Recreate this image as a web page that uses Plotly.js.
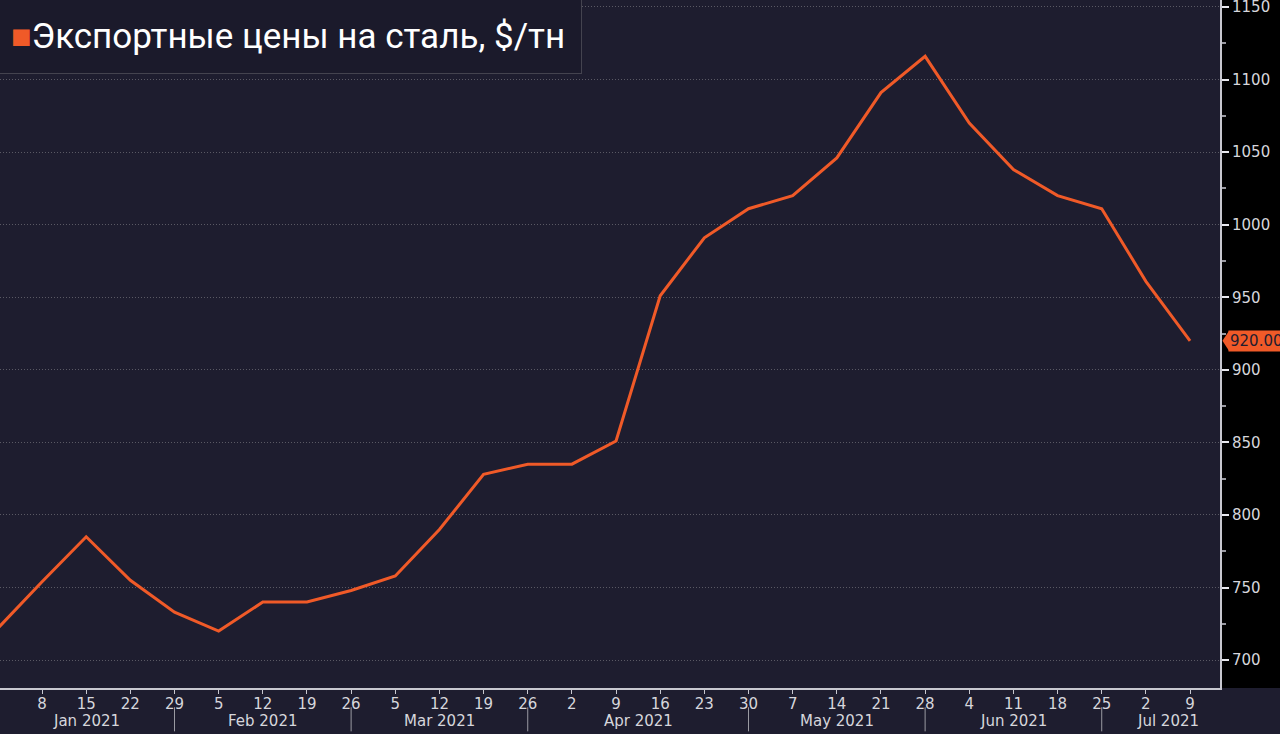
<!DOCTYPE html>
<html>
<head>
<meta charset="utf-8">
<script src="https://cdn.plot.ly/plotly-3.0.1.min.js"></script>
<style>html,body{margin:0;padding:0;background:#1e1d2f;}#chart{width:1280px;height:734px;}</style>
</head>
<body>
<div id="chart"></div>
<script>
// ---- data ----
const dates = ['2021-01-01','2021-01-08','2021-01-15','2021-01-22','2021-01-29',
  '2021-02-05','2021-02-12','2021-02-19','2021-02-26',
  '2021-03-05','2021-03-12','2021-03-19','2021-03-26',
  '2021-04-02','2021-04-09','2021-04-16','2021-04-23','2021-04-30',
  '2021-05-07','2021-05-14','2021-05-21','2021-05-28',
  '2021-06-04','2021-06-11','2021-06-18','2021-06-25',
  '2021-07-02','2021-07-09'];
const prices = [722,754,785,755,733,
  720,740,740,748,
  758,790,828,835,
  835,851,951,991,1011,
  1020,1046,1091,1116,
  1070,1038,1020,1011,
  961,920];
const seriesName = 'Экспортные цены на сталь, $/тн';
const tickDates = dates.slice(1);
const tickLabels = tickDates.map(d => String(parseInt(d.slice(8,10),10)));
const monthNames = ['Jan 2021','Feb 2021','Mar 2021','Apr 2021','May 2021','Jun 2021','Jul 2021'];
const monthLabelDates = ['2021-01-15','2021-02-12','2021-03-12','2021-04-12 12:00','2021-05-14','2021-06-11','2021-07-05 12:00'];
const monthSeparators = ['2021-01-29','2021-02-26','2021-03-26','2021-04-30','2021-05-28','2021-06-25'];
const yTicks = [700,750,800,850,900,950,1000,1050,1100,1150];

const orange = '#f05a28';
const bg = '#1e1d2f';
const lastVal = prices[prices.length-1];
const labelFont = {family: 'DejaVu Sans', size: 15, color: '#d6d6dc'};

const trace = {
  x: dates, y: prices, type: 'scatter', mode: 'lines',
  line: {color: orange, width: 3}, name: seriesName, showlegend: false,
  hoverinfo: 'x+y'
};

const annotations = monthNames.map((m,i) => ({
  x: monthLabelDates[i], y: 0, xref: 'x', yref: 'paper', yanchor: 'top', yshift: -22,
  text: m, showarrow: false, font: labelFont
}));
annotations.push({
  x: 0, y: 1, xref: 'paper', yref: 'paper', xanchor: 'left', yanchor: 'top', xshift: -6, yshift: 1,
  text: '<span style="color:' + orange + ';font-size:34px">■</span>' + seriesName,
  showarrow: false, align: 'left',
  font: {family: 'Roboto', size: 35, color: '#ffffff'},
  bgcolor: '#1b1a2b', bordercolor: '#44434f', borderwidth: 1, borderpad: 16
});
annotations.push({
  x: 1, y: lastVal, xref: 'paper', yref: 'y', xanchor: 'left', xshift: 8,
  text: lastVal.toFixed(2), showarrow: false,
  font: {family: 'DejaVu Sans', size: 15, color: '#1e1d2f'},
  bgcolor: orange, borderpad: 1
});

const shapes = [
  {type: 'rect', xref: 'paper', yref: 'paper', x0: 1, x1: 1.1, y0: 0, y1: 1,
   fillcolor: '#000000', line: {width: 0}, layer: 'below'},
  {type: 'path', xref: 'paper', yref: 'y',
   path: 'M 1.0020,' + lastVal + ' L 1.0075,' + (lastVal+7) + ' L 1.0075,' + (lastVal-7) + ' Z',
   fillcolor: orange, line: {width: 0}}
];
monthSeparators.forEach(d => shapes.push({
  type: 'line', xref: 'x', yref: 'paper', x0: d, x1: d, y0: -0.028, y1: -0.063,
  line: {color: '#9a9aa2', width: 1}
}));

const layout = {
  width: 1280, height: 734,
  margin: {l: 0, r: 60, t: 0, b: 46},
  paper_bgcolor: bg, plot_bgcolor: bg,
  showlegend: false,
  xaxis: {
    type: 'date', range: ['2021-01-01 08:00', '2021-07-13 18:00'],
    tickmode: 'array', tickvals: tickDates, ticktext: tickLabels,
    ticks: 'outside', ticklen: 4, tickcolor: '#c8c8d0', tickwidth: 1,
    ticklabelstandoff: -3,
    showgrid: false, zeroline: false,
    showline: true, linecolor: '#c8c8d0', linewidth: 2,
    tickfont: labelFont,
    fixedrange: true
  },
  yaxis: {
    side: 'right', range: [680.8, 1154.8],
    tickmode: 'array', tickvals: yTicks,
    ticks: 'outside', ticklen: 7, tickcolor: '#e8e8ee', tickwidth: 2,
    ticklabeloverflow: 'allow',
    minor: {dtick: 25, ticks: 'outside', ticklen: 4, tickcolor: '#9a9aa2', showgrid: false},
    showgrid: true, gridcolor: '#5a5964', griddash: '1px,2px', gridwidth: 1,
    zeroline: false, showline: true, linecolor: '#c8c8d0', linewidth: 2,
    tickfont: labelFont,
    fixedrange: true
  },
  annotations: annotations,
  shapes: shapes
};

Plotly.newPlot('chart', [trace], layout, {displayModeBar: false, staticPlot: true});
</script>
</body>
</html>
